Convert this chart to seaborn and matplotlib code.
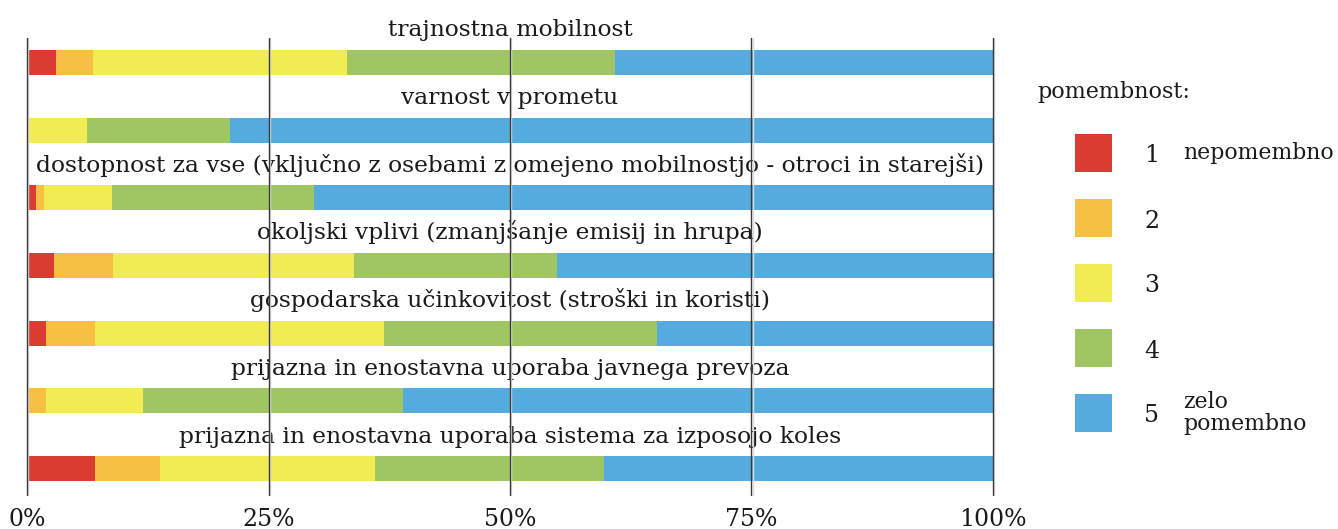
import matplotlib
matplotlib.use('Agg')
import numpy as np
import pandas as pd
import matplotlib.pyplot as plt
from matplotlib.patches import Rectangle
import seaborn as sns

# -- data (percent of answers per importance level) --
categories = [
    'trajnostna mobilnost',
    'varnost v prometu',
    'dostopnost za vse (vključno z osebami z omejeno mobilnostjo - otroci in starejši)',
    'okoljski vplivi (zmanjšanje emisij in hrupa)',
    'gospodarska učinkovitost (stroški in koristi)',
    'prijazna in enostavna uporaba javnega prevoza',
    'prijazna in enostavna uporaba sistema za izposojo koles',
]
ocena_1 = [3.0, 0.0, 0.9, 2.8, 2.0, 0.0, 7.0]
ocena_2 = [3.8, 0.0, 0.9, 6.1, 5.0, 2.0, 6.8]
ocena_3 = [26.3, 6.2, 7.0, 25.0, 30.0, 10.0, 22.2]
ocena_4 = [27.8, 14.8, 20.9, 21.0, 28.2, 26.9, 23.7]
ocena_5 = [39.1, 79.0, 70.3, 45.1, 34.8, 61.1, 40.3]

levels = ['1', '2', '3', '4', '5']
level_notes = {'1': 'nepomembno', '5': 'zelo\npomembno'}
colors = {'1': '#DA3B32', '2': '#F5C044', '3': '#F1EC53', '4': '#9FC663', '5': '#55AADE'}
xticks = [0, 25, 50, 75, 100]

df = pd.DataFrame({'kategorija': categories, '1': ocena_1, '2': ocena_2,
                   '3': ocena_3, '4': ocena_4, '5': ocena_5})
cum = df[levels].cumsum(axis=1)

sns.set_style('white')
plt.rcParams['font.family'] = ['DejaVu Serif']

W, H = 1338, 529
fig = plt.figure(figsize=(W / 100, H / 100), dpi=100)
ax = fig.add_axes([27 / W, 1 - 495 / H, (993 - 27) / W, (495 - 38) / H])

# stacked bars: draw cumulative totals from the largest down
for lvl in reversed(levels):
    sns.barplot(x=cum[lvl], y=df['kategorija'], color=colors[lvl], orient='h',
                width=0.37, saturation=1, linewidth=0, ax=ax)

ax.set_xlim(0, 100)
ax.set_ylim(6.39, -0.36)
ax.set_yticks([])
ax.set_ylabel('')
ax.set_xlabel('')
ax.set_xticks(xticks)
ax.set_xticklabels([f'{t}%' for t in xticks], fontsize=17, color='#1a1a1a')
ax.tick_params(axis='x', length=0, pad=9)
for s in ax.spines.values():
    s.set_visible(False)

for t in xticks:
    ax.axvline(t + 0.12, color='#dddddd', lw=1.0, zorder=4, clip_on=False)
    ax.axvline(t, color='#3a3a3a', lw=1.0, zorder=5, clip_on=False)

for i, cat in enumerate(categories):
    ax.text(50, i - 0.385, cat, ha='center', va='baseline', fontsize=16.8,
            color='#1a1a1a', clip_on=False)

# -- legend --
lax = fig.add_axes([0, 0, 1, 1])
lax.set_xlim(0, W)
lax.set_ylim(H, 0)
lax.axis('off')
lax.text(1037, 92, 'pomembnost:', fontsize=16, va='center', ha='left', color='#1a1a1a')
for k, lvl in enumerate(levels):
    yc = 153 + k * 65
    lax.add_patch(Rectangle((1075, yc - 19), 37, 38, color=colors[lvl], lw=0))
    lax.text(1152, yc + 3, lvl, fontsize=17, va='center', ha='center', color='#1a1a1a')
    if lvl in level_notes:
        lax.text(1183, yc, level_notes[lvl], fontsize=15.8, va='center', ha='left',
                 color='#1a1a1a', linespacing=1.05)

fig.savefig('out.png', dpi=100, facecolor='white')
